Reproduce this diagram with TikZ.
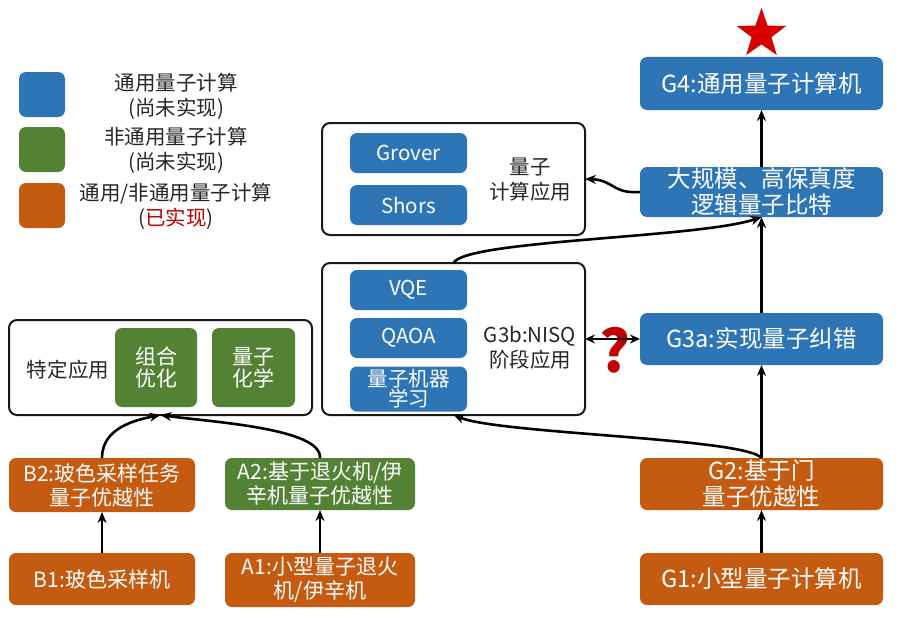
\documentclass[tikz,border=0pt]{standalone}
\usepackage{fontspec}
\setmainfont{Noto Sans CJK SC}
\usetikzlibrary{arrows.meta,shapes.geometric}
\definecolor{qblue}{HTML}{2E75B6}
\definecolor{qgreen}{HTML}{548235}
\definecolor{qorange}{HTML}{C55A11}
\definecolor{qred}{HTML}{C00000}
\definecolor{qstar}{HTML}{D80000}
\definecolor{qtext}{HTML}{262626}
\begin{document}
\begin{tikzpicture}[x=1pt,y=-1pt,
  every node/.style={inner sep=0pt, outer sep=0pt},
  fillbox/.style={rounded corners=7pt, text=white, align=center},
  bluebox/.style={fillbox, fill=qblue},
  greenbox/.style={fillbox, fill=qgreen},
  orangebox/.style={fillbox, fill=qorange},
  framebox/.style={draw=black!90, line width=2pt, rounded corners=8pt, fill=white},
  bigf/.style={font=\fontsize{23.5}{26}\selectfont},
  midf/.style={font=\fontsize{21}{24}\selectfont},
  smallf/.style={font=\fontsize{20.5}{23}\selectfont},
  lab/.style={text=qtext, align=center, font=\fontsize{20.5}{25}\selectfont},
  arr/.style={line width=2.6pt, draw=black, -{Stealth[length=11pt,width=9pt]}},
  dblarr/.style={line width=2.6pt, draw=black, {Stealth[length=10pt,width=9pt]}-{Stealth[length=10pt,width=9pt]}},
]
\useasboundingbox (0,0) rectangle (909,618);

% legend
\node[bluebox, minimum width=46, minimum height=45] (lgb) at (42,94.5) {};
\node[greenbox, minimum width=46, minimum height=45] (lgg) at (42,149.5) {};
\node[orangebox, minimum width=46, minimum height=45] (lgo) at (42,205.5) {};
\node[lab] (lgbt) at (176,96) {通用量子计算\\(尚未实现)};
\node[lab] (lggt) at (176,150.5) {非通用量子计算\\(尚未实现)};
\node[lab] (lgot) at (176,206) {通用/非通用量子计算\\(\textcolor{qred}{已实现})};

% quantum computing applications frame
\node[framebox, minimum width=263, minimum height=112] (app) at (453.5,179) {};
\node[bluebox, smallf, minimum width=117, minimum height=40] (grover) at (408.5,153) {Grover};
\node[bluebox, smallf, minimum width=117, minimum height=40] (shors) at (408.5,205) {Shors};
\node[lab] (applab) at (530,180) {量子\\计算应用};

% NISQ frame
\node[framebox, minimum width=263, minimum height=152] (nisq) at (453.5,339) {};
\node[bluebox, smallf, minimum width=117, minimum height=40] (vqe) at (408.5,290) {VQE};
\node[bluebox, smallf, minimum width=117, minimum height=40] (qaoa) at (408.5,338) {QAOA};
\node[bluebox, font=\fontsize{20.5}{19}\selectfont, minimum width=117, minimum height=45] (qml) at (408.5,389) {量子机器\\学习};
\node[lab] (nisqlab) at (530,348) {G3b:NISQ\\阶段应用};

% right column
\node[star, star points=5, star point ratio=2.5, fill=qstar, minimum size=52pt] (star) at (761.5,34) {};
\node[bluebox, bigf, minimum width=243, minimum height=53] (g4) at (761.5,83.5) {G4:通用量子计算机};
\node[bluebox, bigf, minimum width=243, minimum height=50] (big) at (761.5,192) {大规模、高保真度\\逻辑量子比特};
\node[bluebox, bigf, minimum width=243, minimum height=52] (g3a) at (761.5,339) {G3a:实现量子纠错};
\node[orangebox, bigf, minimum width=243, minimum height=52] (g2) at (761.5,484) {G2:基于门\\量子优越性};
\node[orangebox, bigf, minimum width=243, minimum height=52] (g1) at (761.5,579) {G1:小型量子计算机};

% left part
\node[framebox, minimum width=303, minimum height=95] (spec) at (160.5,367.5) {};
\node[greenbox, font=\fontsize{21}{22}\selectfont, minimum width=82, minimum height=79] (zhyh) at (156,367.5) {组合\\优化};
\node[greenbox, font=\fontsize{21}{22}\selectfont, minimum width=83, minimum height=79] (lzhx) at (253.5,367.5) {量子\\化学};
\node[lab] (speclab) at (68,370) {特定应用};
\node[orangebox, midf, minimum width=186, minimum height=54] (b2) at (102,485) {B2:玻色采样任务\\量子优越性};
\node[orangebox, midf, minimum width=186, minimum height=52] (b1) at (102,579) {B1:玻色采样机};
\node[greenbox, midf, minimum width=190, minimum height=52] (a2) at (320,484) {A2:基于退火机/伊\\辛机量子优越性};
\node[orangebox, midf, minimum width=190, minimum height=54] (a1) at (320,580) {A1:小型量子退火\\机/伊辛机};

% question mark
\node[text=qred, font=\fontsize{58}{58}\selectfont\bfseries] (qm) at (615,350) {?};

% connectors
\draw[arr] (b1) -- (b2);
\draw[arr] (a1) -- (a2);
\draw[arr] (g1) -- (g2);
\draw[arr] (g2) -- (g3a);
\draw[arr] (g3a) -- (big);
\draw[arr] (big) -- (g4);
\draw[arr] (b2.north) .. controls (102,428) and (135,420) .. (spec.south);
\draw[arr] (a2.north) .. controls (322,428) and (210,422) .. (spec.south);
\draw[arr] (g2.north) .. controls (745,438) and (500,434) .. (nisq.south);
\draw[arr] (nisq.north) .. controls (465,240) and (700,238) .. (big.south);
\draw[arr] (big.west) .. controls (612,194) and (614,180) .. (app.east);
\draw[dblarr] (nisq.east) -- (g3a.west);
\end{tikzpicture}
\end{document}
